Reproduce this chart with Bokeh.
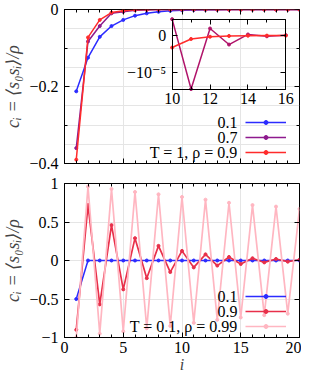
from bokeh.plotting import figure
from bokeh.models import Range1d, LinearAxis, FixedTicker, Legend, LegendItem, Label
from bokeh.layouts import column
from bokeh.embed import file_html
from bokeh.resources import INLINE

# ---------------- data ----------------
i_vals = list(range(1, 21))

# top panel: T = 1, rho = 0.9 ; series labelled by their parameter
top_c01 = [-0.2125, -0.125, -0.071, -0.043, -0.027, -0.016, -0.010, -0.006, -0.0035, -0.002,
           -0.0012, -0.0007, -0.0004, -0.00025, -0.00015, -0.00009, -0.00005, -0.00003, -0.00002, -0.00001]
top_c07 = [-0.36, -0.083, -0.043, -0.010, -0.006, -0.002, -0.001, -0.0003, -0.0001, 0.44e-5,
           -1.43e-5, 0.19e-5, -0.24e-5, 0.03e-5, -0.02e-5, 0.01e-5, 0.0, 0.0, 0.0, 0.0]
top_c09 = [-0.39, -0.0725, -0.027, -0.008, -0.003, -0.0009, -0.0003, -0.00009, -0.00002, -0.32e-5,
           -0.09e-5, -0.03e-5, -0.01e-5, -0.003e-5, -0.001e-5, 0.0, 0.0, 0.0, 0.0, 0.0]

# bottom panel: T = 0.1, rho = 0.99
bot_c01 = [-0.5, 0, 0, 0, 0, 0, 0, 0, 0, 0, 0, 0, 0, 0, 0, 0, 0, 0, 0, 0]
bot_c09 = [-0.9, 0.72, -0.57, 0.46, -0.375, 0.29, -0.23, 0.19, -0.15, 0.125,
           -0.09, 0.08, -0.066, 0.046, -0.046, 0.03, -0.025, 0.02, -0.015, 0.01]
bot_c099 = [-1.0, 0.96, -0.95, 0.93, -0.92, 0.89, -0.88, 0.86, -0.85, 0.825,
            -0.81, 0.79, -0.77, 0.75, -0.74, 0.72, -0.71, 0.70, -0.69, 0.67]

top_labels = ["0.1", "0.7", "T = 1, ρ = 0.9"]
bot_labels = ["0.1", "0.9", "T = 0.1, ρ = 0.99"]

x_ticks = [0, 5, 10, 15, 20]
x_tick_labels = ["0", "5", "10", "15", "20"]
x_minor = list(range(0, 21))
top_y_ticks = [-0.4, -0.2, 0]
top_y_tick_labels = ["−0.4", "−0.2", "0"]
top_y_minor = [-0.4, -0.3, -0.2, -0.1, 0]
bot_y_ticks = [-1, -0.5, 0, 0.5, 1]
bot_y_tick_labels = ["−1", "−0.5", "0", "0.5", "1"]

inset_i = list(range(10, 17))
inset_x_ticks = [10, 12, 14, 16]
inset_x_tick_labels = ["10", "12", "14", "16"]
inset_x_minor = list(range(10, 17))
inset_y_ticks = [-1e-5, 0]
inset_y_tick_labels = ["−10⁻⁵", "0"]
inset_xlim = (10, 16)
inset_ylim = (-1.44e-5, 0.44e-5)

# ---------------- style ----------------
FONT = "'Liberation Serif', 'DejaVu Serif', serif"
FS = "16px"
BLUE = "#2b2bff"
PURPLE = "#8e1a8e"
RED = "#ff2b2b"
INSET_PURPLE = "#b0146a"
RED2 = "#e8304a"
PINK = "#ffb6c1"
MS = 3

def make_axis(cls_kwargs, ticks, labels=None, minor=None, show_labels=True):
    ax = LinearAxis(ticker=FixedTicker(ticks=ticks, minor_ticks=minor or []), **cls_kwargs)
    ax.major_tick_in = 5
    ax.major_tick_out = 0
    ax.minor_tick_in = 3
    ax.minor_tick_out = 0
    ax.axis_line_color = "black"
    ax.major_tick_line_color = "black"
    ax.minor_tick_line_color = "black"
    ax.major_label_text_font = FONT
    ax.major_label_text_font_size = FS
    ax.major_label_text_color = "black" if show_labels else None
    if labels is not None:
        ax.major_label_overrides = dict(zip(ticks, labels))
    return ax

def base_fig(h, ylim, top, bottom):
    p = figure(width=301, height=h, x_range=Range1d(0, 20), y_range=Range1d(*ylim),
               output_backend="svg", toolbar_location=None,
               x_axis_location=None, y_axis_location=None,
               min_border_left=60, min_border_right=2, min_border_top=top, min_border_bottom=bottom)
    p.outline_line_color = "black"
    p.outline_line_width = 1
    p.outline_line_alpha = 1
    p.background_fill_color = "white"
    p.border_fill_color = "white"
    return p

def add_legend(p, renderers, labels):
    items = [LegendItem(label="", renderers=r) for r in renderers]
    leg = Legend(items=items, location=(181, 6), orientation="vertical",
                 glyph_width=41, glyph_height=10, label_width=0, label_height=10,
                 label_standoff=0, spacing=5, padding=0, margin=0,
                 border_line_color=None, background_fill_alpha=0,
                 label_text_font_size="1px")
    p.add_layout(leg, "center")
    ys = [41, 26, 11]
    for t, y in zip(labels, ys):
        p.add_layout(Label(x=173, y=y, x_units="screen", y_units="screen", text=t,
                           text_align="right", text_baseline="middle",
                           text_font=FONT, text_font_size="16px", text_color="black"))

YLABEL = "cᵢ = ⟨s₀sᵢ⟩/ρ"

def style_ylabel(ax):
    ax.major_label_standoff = 6
    ax.axis_label_standoff = 3
    ax.axis_label_text_font = FONT
    ax.axis_label_text_font_size = "18px"
    ax.axis_label_text_font_style = "italic"

# ---------------- top panel ----------------
p1 = base_fig(173, (-0.4, 0), 9, 10)
la = make_axis(dict(axis_label=YLABEL), top_y_ticks, top_y_tick_labels, top_y_minor)
style_ylabel(la)
p1.add_layout(la, "left")
p1.add_layout(make_axis(dict(fixed_location=20), top_y_ticks, None, top_y_minor, False), "right")
p1.add_layout(make_axis(dict(fixed_location=-0.4), x_ticks, None, x_minor, False), "below")
p1.add_layout(make_axis(dict(fixed_location=0), x_ticks, None, x_minor, False), "above")

r = []
for ys, col in [(top_c01, BLUE), (top_c07, PURPLE), (top_c09, RED)]:
    l = p1.line(i_vals, ys, line_color=col, line_width=1.5)
    s = p1.scatter(i_vals, ys, marker="circle", size=MS, fill_color=col, line_color=col)
    r.append([l, s])
add_legend(p1, r, top_labels)

# inset inside the top panel (fractions of the frame)
IL, IR, IB, IT = 0.458, 0.942, 0.481, 0.9375
ixs = (inset_xlim[1] - inset_xlim[0]) / (IR - IL)
ix0 = inset_xlim[0] - IL * ixs
iys = (inset_ylim[1] - inset_ylim[0]) / (IT - IB)
iy0 = inset_ylim[0] - IB * iys
p1.extra_x_ranges = {"ix": Range1d(ix0, ix0 + ixs)}
p1.extra_y_ranges = {"iy": Range1d(iy0, iy0 + iys)}
rn = dict(x_range_name="ix", y_range_name="iy")

ib = make_axis(dict(fixed_location=inset_ylim[0], bounds=inset_xlim, **rn), inset_x_ticks,
               inset_x_tick_labels, inset_x_minor)
ib.major_label_standoff = 4
p1.add_layout(ib, "below")
p1.add_layout(make_axis(dict(fixed_location=inset_ylim[1], bounds=inset_xlim, **rn), inset_x_ticks,
                        None, inset_x_minor, False), "above")
il = make_axis(dict(fixed_location=inset_xlim[0], bounds=inset_ylim, **rn), inset_y_ticks,
               inset_y_tick_labels)
il.major_label_standoff = 6
p1.add_layout(il, "left")
p1.add_layout(make_axis(dict(fixed_location=inset_xlim[1], bounds=inset_ylim, **rn), inset_y_ticks,
                        None, None, False), "right")

k0 = i_vals.index(inset_i[0])
k1 = i_vals.index(inset_i[-1]) + 1
for ys, col in [(top_c07[k0:k1], INSET_PURPLE), (top_c09[k0:k1], RED)]:
    p1.line(inset_i, ys, line_color=col, line_width=1.5, **rn)
    p1.scatter(inset_i, ys, marker="circle", size=MS, fill_color=col, line_color=col, **rn)

# ---------------- bottom panel ----------------
p2 = base_fig(202, (-1, 1), 10, 38)
la2 = make_axis(dict(axis_label=YLABEL), bot_y_ticks, bot_y_tick_labels, None)
style_ylabel(la2)
p2.add_layout(la2, "left")
ba = make_axis(dict(axis_label="i"), x_ticks, x_tick_labels, x_minor)
ba.major_label_standoff = 4
ba.axis_label_standoff = 0
ba.axis_label_text_font = FONT
ba.axis_label_text_font_size = "16px"
ba.axis_label_text_font_style = "italic"
p2.add_layout(ba, "below")
p2.add_layout(make_axis(dict(fixed_location=20), bot_y_ticks, None, None, False), "right")
p2.add_layout(make_axis(dict(fixed_location=1), x_ticks, None, x_minor, False), "above")

r2 = []
for ys, col, lw in [(bot_c01, BLUE, 1.5), (bot_c09, RED2, 1.7), (bot_c099, PINK, 1.7)]:
    l = p2.line(i_vals, ys, line_color=col, line_width=lw)
    s = p2.scatter(i_vals, ys, marker="circle", size=MS, fill_color=col, line_color=col)
    r2.append([l, s])
add_legend(p2, r2, bot_labels)

layout = column(p1, p2, spacing=0)
open("out.html", "w").write(file_html(layout, INLINE))
